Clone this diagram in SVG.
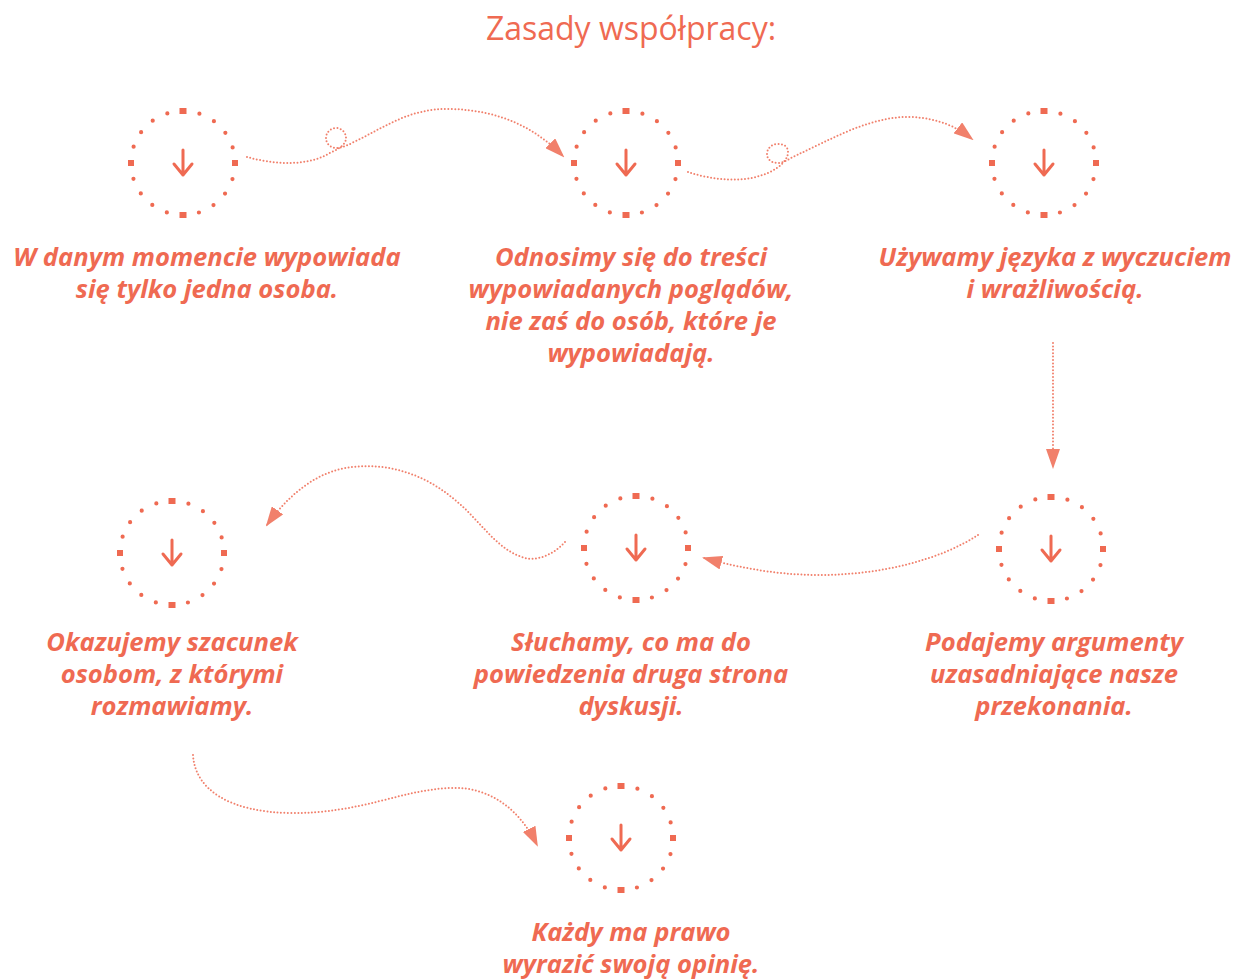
<svg xmlns="http://www.w3.org/2000/svg" xmlns:xlink="http://www.w3.org/1999/xlink" width="1238" height="979" viewBox="0 0 1238 979">
<style>
.title{font-family:"Open Sans","Liberation Sans",sans-serif;font-size:32px;fill:#EF6A52;text-anchor:middle}
.lbl{font-family:"Open Sans","Liberation Sans",sans-serif;font-size:25.6px;font-weight:bold;font-style:italic;fill:#EF6A52;text-anchor:middle}
.con{fill:none;stroke:#EF6A52;stroke-width:2;stroke-dasharray:0 3.4;stroke-linecap:round;opacity:0.85;marker-end:url(#ah)}
</style>
<defs>
<marker id="ah" viewBox="0 0 20 14" refX="18" refY="7" markerWidth="20" markerHeight="14" orient="auto" markerUnits="userSpaceOnUse">
<path d="M0,0 L20,7 L0,14 Z" fill="#EF6A52"/>
</marker>
<g id="ring">
<circle r="52" fill="none" stroke="#EF6A52" stroke-width="4.2" stroke-dasharray="0 16.336" stroke-linecap="round"/>
<g fill="#EF6A52">
<rect x="-3.5" y="-55" width="7" height="6"/>
<rect x="-3.5" y="49" width="7" height="6"/>
<rect x="-55" y="-3" width="6" height="6"/>
<rect x="49" y="-3" width="6" height="6"/>
</g>
<path d="M0,-13 V12 M-9,1 L0,12 L9,1" fill="none" stroke="#EF6A52" stroke-width="3" stroke-linecap="round" stroke-linejoin="round"/>
</g>
</defs>
<rect width="1238" height="979" fill="#ffffff"/>
<text class="title" x="631" y="40">Zasady współpracy:</text>

<g id="connectors">
<path class="con" d="M247,157 C272,164 305,167 328,154 C336,150 346,146 346,138 C346,132 341,128 336,128 C330,128 326,133 326,138 C326,144 331,148 336,148 C342,148 348,145 354,142 C385,127 410,108 450,109 C500,110 535,128 563,156"/>
<path class="con" d="M688,172 C712,180 745,184 770,172 C780,167 788,160 788,152 C788,146 783,144 778,144 C771,144 767,149 767,154 C767,160 772,163 778,163 C784,163 790,158 797,155 C830,140 870,116 910,117 C940,118 958,128 972,139"/>
<path class="con" d="M1053,343 V467"/>
<path class="con" d="M978,535 C940,560 880,575 820,575 C770,575 730,565 704,558"/>
<path class="con" d="M565,542 C552,556 535,562 522,557 C495,548 480,520 455,500 C420,470 380,462 345,468 C310,475 285,500 267,525"/>
<path class="con" d="M193,755 C195,790 230,812 290,813 C360,814 400,790 450,788 C490,786 520,810 537,845"/>
</g>

<g id="n1">
<use xlink:href="#ring" x="183" y="163"/>
<text class="lbl"><tspan x="207" y="266">W danym momencie wypowiada</tspan><tspan x="207" y="298">się tylko jedna osoba.</tspan></text>
</g>
<g id="n2">
<use xlink:href="#ring" x="626" y="163"/>
<text class="lbl"><tspan x="631" y="266">Odnosimy się do treści</tspan><tspan x="631" y="298">wypowiadanych poglądów,</tspan><tspan x="631" y="330">nie zaś do osób, które je</tspan><tspan x="631" y="362">wypowiadają.</tspan></text>
</g>
<g id="n3">
<use xlink:href="#ring" x="1044" y="163"/>
<text class="lbl"><tspan x="1055" y="266">Używamy języka z wyczuciem</tspan><tspan x="1055" y="298">i wrażliwością.</tspan></text>
</g>
<g id="n4">
<use xlink:href="#ring" x="1051" y="549"/>
<text class="lbl"><tspan x="1054" y="651">Podajemy argumenty</tspan><tspan x="1054" y="683">uzasadniające nasze</tspan><tspan x="1054" y="715">przekonania.</tspan></text>
</g>
<g id="n5">
<use xlink:href="#ring" x="636" y="548"/>
<text class="lbl"><tspan x="631" y="651">Słuchamy, co ma do</tspan><tspan x="631" y="683">powiedzenia druga strona</tspan><tspan x="631" y="715">dyskusji.</tspan></text>
</g>
<g id="n6">
<use xlink:href="#ring" x="172" y="553"/>
<text class="lbl"><tspan x="172" y="651">Okazujemy szacunek</tspan><tspan x="172" y="683">osobom, z którymi</tspan><tspan x="172" y="715">rozmawiamy.</tspan></text>
</g>
<g id="n7">
<use xlink:href="#ring" x="621" y="838"/>
<text class="lbl"><tspan x="631" y="941">Każdy ma prawo</tspan><tspan x="631" y="973">wyrazić swoją opinię.</tspan></text>
</g>
</svg>
